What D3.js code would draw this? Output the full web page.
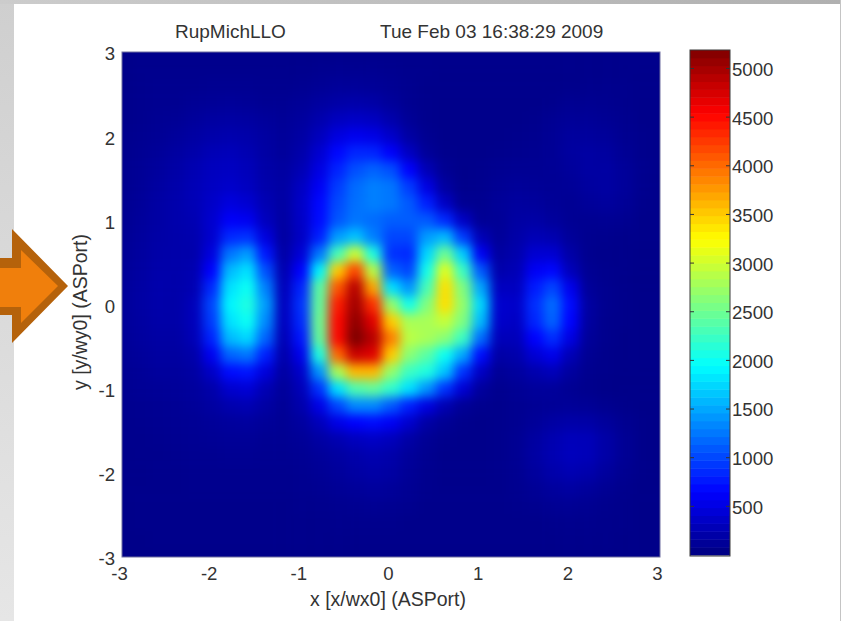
<!DOCTYPE html>
<html>
<head>
<meta charset="utf-8">
<script src="https://cdn.jsdelivr.net/npm/d3@7"></script>
<style>
    body { margin: 0; background: #fff; }
    svg { display: block; }
    text { font-family: "Liberation Sans", Arial, sans-serif; font-size: 18.6px; fill: #333; }
    .title { font-size: 19px; }
    .axis-label { font-size: 19.5px; }
</style>
</head>
<body>
<div id="vis"></div>
<script>
const title = 'RupMichLLO';
const timestamp = 'Tue Feb 03 16:38:29 2009';
const xLabel = 'x [x/wx0] (ASPort)';
const yLabel = 'y [y/wy0] (ASPort)';

const xTicks = [-3, -2, -1, 0, 1, 2, 3];
const yTicks = [-3, -2, -1, 0, 1, 2, 3];
const barTicks = [500, 1000, 1500, 2000, 2500, 3000, 3500, 4000, 4500, 5000];

// grid positions, -3 to 3 every 0.2
const xGrid = [-3, -2.8, -2.6, -2.4, -2.2, -2, -1.8, -1.6, -1.4, -1.2, -1, -0.8, -0.6, -0.4, -0.2, 0, 0.2, 0.4, 0.6, 0.8, 1, 1.2, 1.4, 1.6, 1.8, 2, 2.2, 2.4, 2.6, 2.8, 3];
const yGrid = [3, 2.8, 2.6, 2.4, 2.2, 2, 1.8, 1.6, 1.4, 1.2, 1, 0.8, 0.6, 0.4, 0.2, 0, -0.2, -0.4, -0.6, -0.8, -1, -1.2, -1.4, -1.6, -1.8, -2, -2.2, -2.4, -2.6, -2.8, -3];

// power, one row per yGrid entry
const power = [
    [50,60,60,60,60,60,60,60,60,60,60,60,60,60,60,60,60,60,60,60,60,60,60,60,60,60,60,60,60,60,60],
    [50,70,70,70,70,70,70,70,70,70,70,80,90,90,90,80,70,70,60,60,60,60,60,60,60,60,60,60,60,60,60],
    [50,70,80,80,80,90,90,90,80,80,90,110,130,130,120,100,80,60,60,60,60,60,60,60,60,60,70,70,70,60,60],
    [60,80,90,90,110,120,130,120,100,100,120,160,200,220,200,140,90,70,60,60,60,60,60,60,70,90,90,80,70,60,60],
    [60,80,100,110,140,170,180,170,140,120,150,230,320,360,330,230,120,70,60,60,60,60,60,70,100,120,120,100,80,60,60],
    [70,90,110,140,180,220,240,220,170,130,180,310,480,570,520,380,190,90,60,60,60,60,70,80,110,150,150,130,90,70,60],
    [70,100,130,170,220,280,300,260,190,140,220,410,680,840,830,640,340,130,70,60,60,70,80,90,110,160,180,160,110,70,60],
    [80,110,150,200,260,320,340,300,210,170,270,500,820,1050,1150,1050,650,280,100,60,70,90,100,100,110,140,180,180,130,80,60],
    [80,120,170,220,280,340,380,330,230,190,340,600,950,1200,1300,1250,950,500,170,70,80,110,130,120,110,120,160,180,140,80,60],
    [90,130,190,230,280,370,480,420,270,190,370,680,1020,1220,1300,1260,1100,800,350,100,90,130,160,150,120,100,130,150,120,70,60],
    [90,140,190,230,260,400,620,580,320,180,360,700,1080,1250,1200,1120,1120,1100,850,350,110,120,180,200,150,100,90,100,90,60,60],
    [100,150,200,220,240,400,850,900,480,170,350,800,1450,1650,1300,1000,1000,1450,1600,950,280,130,210,280,250,130,80,70,60,60,60],
    [110,160,210,220,230,480,1250,1450,760,200,440,1250,2300,3000,2100,900,850,1750,2500,1700,600,170,240,420,420,200,80,60,60,50,50],
    [120,170,220,220,250,650,1600,1800,1050,250,650,1900,3500,4200,2900,1150,1000,2050,3100,2250,1100,230,280,600,680,300,100,70,60,50,50],
    [130,180,230,220,260,850,1800,2000,1300,300,820,2400,4100,4900,3700,1800,1400,2300,3400,2600,1500,330,330,780,1000,560,130,80,60,50,50],
    [130,180,220,210,300,1000,1900,2100,1450,320,900,2450,4400,5000,4300,2700,2050,2600,3400,2700,1750,400,380,880,1200,700,170,80,60,50,50],
    [130,170,210,210,300,950,1800,2000,1350,320,850,2500,4500,5100,4700,3500,2800,2800,2950,2600,1600,380,350,830,1150,660,160,70,60,50,50],
    [120,160,190,190,280,820,1600,1750,1150,280,750,2450,4500,5200,4900,3900,2900,2800,2650,2250,1200,300,300,650,880,500,130,70,50,50,50],
    [110,140,170,170,220,580,1150,1250,800,230,550,2100,4000,4800,4700,3500,2650,2400,2000,1500,700,200,230,430,550,280,100,60,50,50,50],
    [100,120,150,150,180,360,700,750,470,180,380,1400,2800,3600,3600,2700,2250,2100,1650,900,350,120,160,240,300,160,80,60,50,50,50],
    [90,110,120,130,150,220,400,440,270,140,290,900,1800,2350,2450,2200,1800,1400,900,430,150,80,110,140,140,100,70,50,50,50,50],
    [80,90,100,110,130,170,240,270,190,120,230,520,1000,1350,1350,1100,800,500,260,120,80,70,90,110,120,120,110,80,60,50,50],
    [70,80,90,100,110,130,150,160,130,110,160,300,520,650,700,600,400,200,110,70,60,70,90,130,180,210,200,140,90,60,50],
    [70,70,80,90,100,110,120,120,100,100,120,180,250,320,360,310,200,110,70,60,60,70,100,170,250,300,290,200,110,60,50],
    [60,70,70,80,90,90,100,100,90,90,100,130,170,220,250,220,140,90,60,60,60,70,100,180,260,310,290,200,110,60,50],
    [60,60,70,70,80,80,80,80,80,80,90,110,140,180,210,180,120,80,60,60,60,70,90,150,220,260,230,150,90,60,50],
    [60,60,60,60,70,70,70,70,70,70,80,90,110,130,150,130,100,70,60,60,60,60,80,110,150,170,140,100,70,50,50],
    [50,60,60,60,60,60,60,60,60,60,70,70,80,90,100,90,80,60,60,60,60,60,70,80,100,100,90,70,60,50,50],
    [50,60,60,60,60,60,60,60,60,60,60,60,70,70,70,70,60,60,60,60,60,60,60,60,70,70,70,60,60,50,50],
    [50,50,60,60,60,60,60,60,60,60,60,60,60,60,60,60,60,60,60,60,60,60,60,60,60,60,60,60,50,50,50],
    [50,50,50,50,50,50,50,50,50,50,50,50,50,50,50,50,50,50,50,50,50,50,50,50,50,50,50,50,50,50,50]
];

const width = 841;
const height = 621;
const plot = { left: 122, right: 660, top: 52, bottom: 557 };
const bar = { left: 690, right: 730, top: 50, bottom: 555 };
const maxPower = 5190;

const svg = d3.select('#vis').append('svg').attr('width', width).attr('height', height);
const defs = svg.append('defs');

// slide background: grey band on the left, thin strips top and right
const bandGrad = defs.append('linearGradient').attr('id', 'band')
    .attr('x1', 0).attr('y1', 0).attr('x2', 0).attr('y2', 1);
bandGrad.append('stop').attr('offset', 0).attr('stop-color', '#cfcfcf');
bandGrad.append('stop').attr('offset', 1).attr('stop-color', '#e6e6e6');
const topGrad = defs.append('linearGradient').attr('id', 'topStrip');
topGrad.append('stop').attr('offset', 0).attr('stop-color', '#cccccc');
topGrad.append('stop').attr('offset', 1).attr('stop-color', '#b0b0b0');

svg.append('rect').attr('width', 14).attr('height', height).attr('fill', 'url(#band)');
svg.append('rect').attr('width', width).attr('height', 4).attr('fill', 'url(#topStrip)');
svg.append('rect').attr('x', 840).attr('width', 1).attr('height', height).attr('fill', '#c4c4c4');

const xScale = d3.scaleLinear().domain([-3, 3]).range([plot.left, plot.right]);
const yScale = d3.scaleLinear().domain([-3, 3]).range([plot.bottom, plot.top]);
const barScale = d3.scaleLinear().domain([0, maxPower]).range([bar.bottom, bar.top]);

// jet colormap
const jet = d3.scaleLinear()
    .domain([0, 0.125, 0.375, 0.625, 0.875, 1].map(d => d * maxPower))
    .range(['#00007f', '#0000ff', '#00ffff', '#ffff00', '#ff0000', '#7f0000'])
    .clamp(true);

// heat map: the cells get blurred a bit so it reads like the smooth original
defs.append('clipPath').attr('id', 'plotClip').append('rect')
    .attr('x', plot.left).attr('y', plot.top)
    .attr('width', plot.right - plot.left).attr('height', plot.bottom - plot.top);
defs.append('filter').attr('id', 'smooth')
    .attr('filterUnits', 'userSpaceOnUse')
    .attr('x', plot.left - 40).attr('y', plot.top - 40)
    .attr('width', plot.right - plot.left + 80).attr('height', plot.bottom - plot.top + 80)
    .attr('color-interpolation-filters', 'sRGB')
    .append('feGaussianBlur').attr('stdDeviation', 5.5);

const heat = svg.append('g').attr('clip-path', 'url(#plotClip)');
heat.append('rect')
    .attr('x', plot.left).attr('y', plot.top)
    .attr('width', plot.right - plot.left).attr('height', plot.bottom - plot.top)
    .attr('fill', jet(50));

const cellW = xScale(0.2) - xScale(0);
const cellH = yScale(0) - yScale(0.2);
heat.append('g').attr('filter', 'url(#smooth)')
    .selectAll('g').data(power).enter().append('g')
    .each(function (row, r) {
        d3.select(this).selectAll('rect').data(row).enter().append('rect')
            .attr('x', (d, c) => xScale(xGrid[c]) - cellW / 2)
            .attr('y', yScale(yGrid[r]) - cellH / 2)
            .attr('width', cellW + 0.5)
            .attr('height', cellH + 0.5)
            .attr('fill', d => jet(d));
    });

svg.append('rect')
    .attr('x', plot.left).attr('y', plot.top)
    .attr('width', plot.right - plot.left).attr('height', plot.bottom - plot.top)
    .attr('fill', 'none').attr('stroke', '#6f6f9f');

// axes, plain hyphen for the minus sign like the original
const xAxis = d3.axisBottom(xScale).tickValues(xTicks).tickSize(0).tickPadding(0).tickFormat(d => String(d));
const yAxis = d3.axisLeft(yScale).tickValues(yTicks).tickSize(0).tickPadding(0).tickFormat(d => String(d));

const xAxisG = svg.append('g').attr('transform', `translate(-3,${plot.bottom + 10})`).call(xAxis);
xAxisG.select('.domain').remove();
xAxisG.attr('font-family', null).attr('font-size', null);

const yAxisG = svg.append('g').attr('transform', `translate(${plot.left - 7},2)`).call(yAxis);
yAxisG.select('.domain').remove();
yAxisG.attr('font-family', null).attr('font-size', null);

// colorbar, 64 steps like matlab
const levels = d3.range(64).map(i => (i + 0.5) / 64 * maxPower);
const stepH = (bar.bottom - bar.top) / 64;
svg.append('g').selectAll('rect').data(levels).enter().append('rect')
    .attr('x', bar.left)
    .attr('y', d => barScale(d) - stepH / 2)
    .attr('width', bar.right - bar.left)
    .attr('height', stepH + 0.5)
    .attr('fill', d => jet(d));

const barAxis = d3.axisRight(barScale).tickValues(barTicks).tickSize(0).tickPadding(2).tickFormat(d3.format('d'));
const barAxisG = svg.append('g').attr('transform', `translate(${bar.right},1)`).call(barAxis);
barAxisG.select('.domain').remove();
barAxisG.attr('font-family', null).attr('font-size', null);

svg.append('g').selectAll('path').data(barTicks).enter().append('path')
    .attr('d', d => `M${bar.left},${barScale(d)}h4M${bar.right},${barScale(d)}h-4`)
    .attr('stroke', '#333').attr('fill', 'none');

svg.append('rect')
    .attr('x', bar.left).attr('y', bar.top)
    .attr('width', bar.right - bar.left).attr('height', bar.bottom - bar.top + 1)
    .attr('fill', 'none').attr('stroke', '#3a3a3a');

// titles and labels
svg.append('text').attr('class', 'title').attr('x', 175).attr('y', 38).text(title);
svg.append('text').attr('class', 'title').attr('x', 380).attr('y', 38).text(timestamp);
svg.append('text').attr('class', 'axis-label').attr('x', 388).attr('y', 606).attr('text-anchor', 'middle').text(xLabel);
svg.append('text')
    .attr('class', 'axis-label')
    .attr('transform', 'translate(87,312) rotate(-90)')
    .attr('text-anchor', 'middle')
    .text(yLabel);

// orange arrow pointing at the y label
const arrow = svg.append('g');
arrow.append('path')
    .attr('d', 'M0,258H12V229L68,286L12,343V315H0Z')
    .attr('fill', '#b5620b');
arrow.append('path')
    .attr('d', 'M0,268H21V250L58,286L21,323V307H0Z')
    .attr('fill', '#f07f0c');
</script>
</body>
</html>
